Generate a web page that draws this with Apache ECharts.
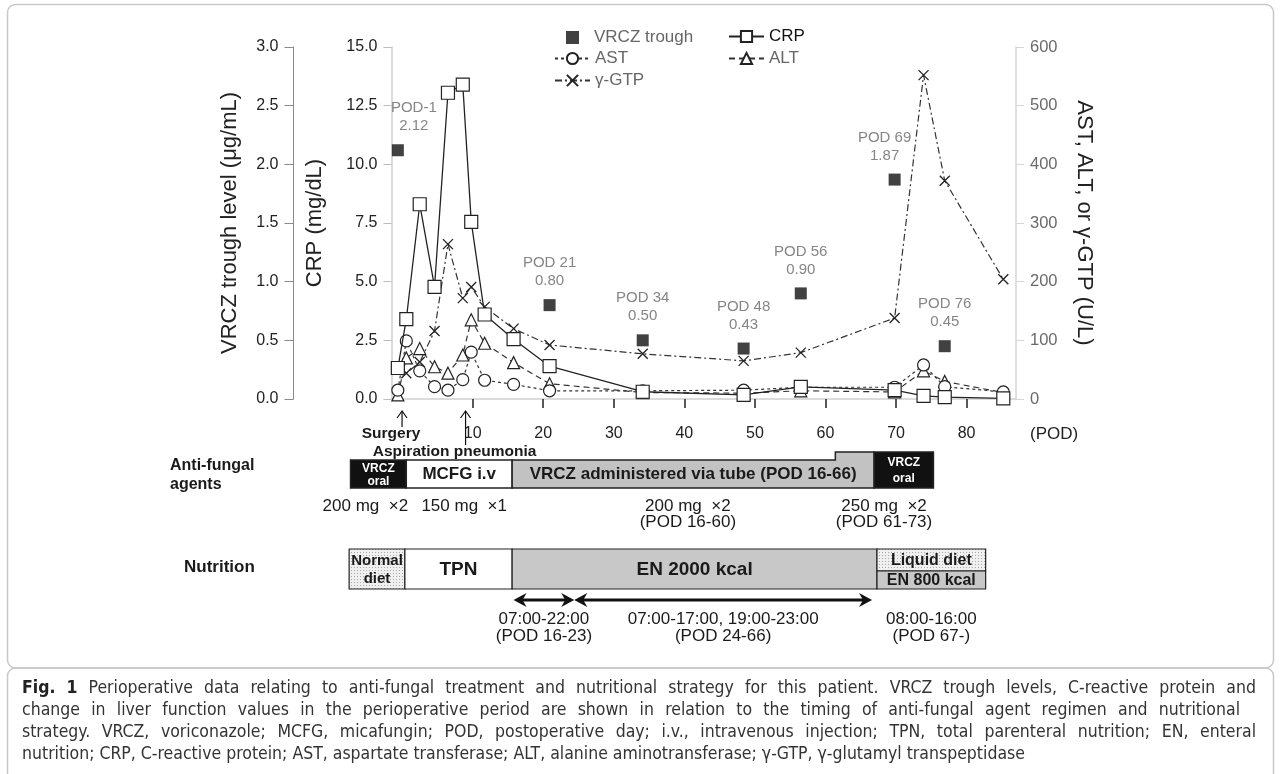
<!DOCTYPE html>
<html>
<head>
<meta charset="utf-8">
<script src="https://cdn.jsdelivr.net/npm/echarts@6/dist/echarts.min.js"></script>
<style>
  html, body { margin: 0; padding: 0; background: #fff; }
  #chart { width: 1281px; height: 774px; }
</style>
</head>
<body>
<div id="chart"></div>
<script>
// lab sampling days (POD) and values
const labDays = [-0.6, 0.6, 2.5, 4.6, 6.5, 8.6, 9.8, 11.7, 15.8, 20.9, 34.1, 48.4, 56.5, 69.8, 73.9, 76.9, 85.2];
const crp  = [1.32, 3.4, 8.3, 4.78, 13.05, 13.4, 7.55, 3.6, 2.55, 1.4, 0.31, 0.18, 0.52, 0.38, 0.13, 0.08, 0.03];
const ast  = [15, 99, 48, 21, 15, 33, 80, 32, 25, 14, 14, 15, 20, 20, 58, 21, 12];
const alt  = [7, 70, 86, 55, 44, 75, 135, 95, 62, 26, 11, 10, 14, 12, 48, 30, 11];
const ggtp = [54, 44, 63, 116, 264, 172, 191, 157, 120, 92, 77, 65, 79, 138, 552, 372, 204];

// VRCZ trough samples
const vrczDays = [-0.6, 20.9, 34.1, 48.4, 56.5, 69.8, 76.9];
const vrczTrough = [2.12, 0.80, 0.50, 0.43, 0.90, 1.87, 0.45];
const vrczPod = ['POD-1', 'POD 21', 'POD 34', 'POD 48', 'POD 56', 'POD 69', 'POD 76'];

const podTicks = [10, 20, 30, 40, 50, 60, 70, 80];

// events under the axis
const eventDays = [0, 9];
const eventNames = ['Surgery', 'Aspiration pneumonia'];

// anti-fungal regimen (POD)
const agentStart = [-7.3, 0.6, 15.6, 66.9];
const agentEnd = [0.6, 15.6, 66.9, 75.3];
const agentNames = ['VRCZ\noral', 'MCFG i.v', 'VRCZ administered via tube (POD 16-66)', 'VRCZ\noral'];
const doseChangeDay = 61.4;
const doseDays = [-5.2, 8.8, 40.5, 68.3];
const doseText = ['200 mg  \u00d72', '150 mg  \u00d71', '200 mg  \u00d72\n(POD 16-60)', '250 mg  \u00d72\n(POD 61-73)'];

// nutrition (POD)
const nutStart = [-7.5, 0.4, 15.6, 67.3];
const nutEnd = [0.4, 15.6, 67.3, 82.7];
const nutNames = ['Normal\ndiet', 'TPN', 'EN 2000 kcal', 'Liquid diet\nEN 800 kcal'];
const enArrowStart = [15.8, 24.4];
const enArrowEnd = [24.4, 66.6];
const scheduleDays = [20.1, 45.5, 75];
const scheduleText = ['07:00-22:00\n(POD 16-23)', '07:00-17:00, 19:00-23:00\n(POD 24-66)', '08:00-16:00\n(POD 67-)'];

const captionLines = [
  'Perioperative data relating to anti-fungal treatment and nutritional strategy for this patient. VRCZ trough levels, C-reactive protein and',
  'change in liver function values in the perioperative period are shown in relation to the timing of anti-fungal agent regimen and nutritional',
  'strategy. VRCZ, voriconazole; MCFG, micafungin; POD, postoperative day; i.v., intravenous injection; TPN, total parenteral nutrition; EN, enteral',
  'nutrition; CRP, C-reactive protein; AST, aspartate transferase; ALT, alanine aminotransferase; \u03b3-GTP, \u03b3-glutamyl transpeptidase'
];

const FONT = 'Liberation Sans, Arial, sans-serif';
const CAPTION_FONT = 'DejaVu Sans Condensed, Liberation Sans Narrow, sans-serif';
const CAP_SIZE = 17.5;
const CAP_LEFT = 22;
const CAP_RIGHT = [1256, 1240, 1256];
const INK = '#1a1a1a';

// dotted fill for diet boxes
const dots = document.createElement('canvas');
dots.width = 3; dots.height = 3;
const dc = dots.getContext('2d');
dc.fillStyle = '#f0f0f0'; dc.fillRect(0, 0, 3, 3);
dc.fillStyle = '#a8a8a8'; dc.fillRect(0, 0, 1, 1);
const dotFill = { image: dots, repeat: 'repeat' };

const agentFill = ['#111', '#fff', '#c2c2c2', '#111'];

function xOf(api, d) { return api.coord([d, 0])[0]; }

function txt(x, y, text, size, opt) {
  return {
    type: 'text', x: x, y: y,
    style: Object.assign({
      text: text, fontSize: size, fontFamily: FONT, fontWeight: 'bold', fill: INK,
      align: 'center', verticalAlign: 'middle'
    }, opt || {})
  };
}

function renderAgent(params, api) {
  const i = params.dataIndex;
  const x1 = xOf(api, api.value(0)), x2 = xOf(api, api.value(1));
  const top = 460, bottom = 488, high = 452;
  const kids = [];
  let t = top;
  if (i === 2) {
    const xs = xOf(api, doseChangeDay);
    kids.push({ type: 'polygon', shape: { points: [[x1, top], [xs, top], [xs, high], [x2, high], [x2, bottom], [x1, bottom]] },
      style: { fill: agentFill[i], stroke: '#222', lineWidth: 1.5 } });
  } else {
    if (i === 3) t = high;
    kids.push({ type: 'rect', shape: { x: x1, y: t, width: x2 - x1, height: bottom - t },
      style: { fill: agentFill[i], stroke: '#222', lineWidth: 1.5 } });
  }
  const dark = agentFill[i] === '#111';
  if (dark) {
    kids.push(txt((x1 + x2) / 2, (t + bottom) / 2 + 1, agentNames[i], 12, { fill: '#fff', lineHeight: (bottom - t) * 0.45 }));
  } else {
    kids.push(txt((x1 + x2) / 2, (top + bottom) / 2, agentNames[i], 17));
  }
  return { type: 'group', children: kids };
}

function renderNutrition(params, api) {
  const i = params.dataIndex;
  const x1 = xOf(api, api.value(0)), x2 = xOf(api, api.value(1));
  const top = 549, bottom = 589, mid = 571;
  const cx = (x1 + x2) / 2;
  const kids = [];
  if (i === 3) {
    const parts = nutNames[i].split('\n');
    kids.push({ type: 'rect', shape: { x: x1, y: top, width: x2 - x1, height: mid - top }, style: { fill: dotFill, stroke: '#222', lineWidth: 1.2 } });
    kids.push({ type: 'rect', shape: { x: x1, y: mid, width: x2 - x1, height: bottom - mid }, style: { fill: '#c8c8c8', stroke: '#222', lineWidth: 1.2 } });
    kids.push(txt(cx, (top + mid) / 2 + 1, parts[0], 16));
    kids.push(txt(cx, (mid + bottom) / 2 + 1, parts[1], 16));
  } else {
    const fill = i === 0 ? dotFill : (i === 1 ? '#fff' : '#c8c8c8');
    kids.push({ type: 'rect', shape: { x: x1, y: top, width: x2 - x1, height: bottom - top }, style: { fill: fill, stroke: '#222', lineWidth: 1.2 } });
    if (i === 0) kids.push(txt(cx, (top + bottom) / 2 + 1, nutNames[i], 15, { lineHeight: 18 }));
    else kids.push(txt(cx, (top + bottom) / 2 + 1, nutNames[i], 19));
  }
  return { type: 'group', children: kids };
}

function head(x, y, dir) {
  return { type: 'polygon', shape: { points: [[x, y], [x - dir * 13, y - 7], [x - dir * 9, y], [x - dir * 13, y + 7]] }, style: { fill: '#111' } };
}

function renderEnArrow(params, api) {
  const x1 = xOf(api, api.value(0)), x2 = xOf(api, api.value(1));
  const y = 600;
  return { type: 'group', children: [
    { type: 'line', shape: { x1: x1 + 4, y1: y, x2: x2 - 4, y2: y }, style: { stroke: '#111', lineWidth: 3 } },
    head(x1, y, -1), head(x2, y, 1)
  ] };
}

function renderSchedule(params, api) {
  const x = xOf(api, api.value(0));
  return txt(x, 611, scheduleText[params.dataIndex], 17, { fontWeight: 'normal', verticalAlign: 'top', lineHeight: 17 });
}

function renderDose(params, api) {
  const x = xOf(api, api.value(0));
  return txt(x, 498, doseText[params.dataIndex], 17, { fontWeight: 'normal', verticalAlign: 'top', lineHeight: 16 });
}

function renderEvent(params, api) {
  const i = params.dataIndex;
  const x = xOf(api, api.value(0));
  const bottom = 427 + 18 * i;
  return { type: 'group', children: [
    { type: 'line', shape: { x1: x, y1: 411, x2: x, y2: bottom }, style: { stroke: '#111', lineWidth: 1.2 } },
    { type: 'polyline', shape: { points: [[x - 5, 418], [x, 411], [x + 5, 418]] }, style: { stroke: '#111', lineWidth: 1.2, fill: null } },
    txt(x - 11, 434 + 18 * i, eventNames[i], 15.5)
  ] };
}

// justified caption: one text element per word
const measureCtx = document.createElement('canvas').getContext('2d');
function wordWidth(w, bold) {
  measureCtx.font = (bold ? 'bold ' : '') + CAP_SIZE + 'px ' + CAPTION_FONT;
  return measureCtx.measureText(w).width;
}
const captionGraphics = [];
captionLines.forEach((line, li) => {
  const words = (li === 0 ? ['Fig.', '1'] : []).concat(line.split(' '));
  const bold = words.map((w, k) => li === 0 && k < 2);
  const widths = words.map((w, k) => wordWidth(w, bold[k]));
  const total = widths.reduce((a, b) => a + b, 0);
  const space = wordWidth(' ', false);
  let gap = space;
  if (li < CAP_RIGHT.length) gap = Math.max(space, (CAP_RIGHT[li] - CAP_LEFT - total) / (words.length - 1));
  let x = CAP_LEFT;
  words.forEach((w, k) => {
    captionGraphics.push({
      type: 'text', x: x, y: 688 + li * 22.3,
      style: { text: w, fontSize: CAP_SIZE, fontFamily: CAPTION_FONT, fontWeight: bold[k] ? 'bold' : 'normal',
        fill: bold[k] ? '#222' : '#333', verticalAlign: 'middle' }
    });
    x += widths[k] + gap;
  });
});

const podLabelShift = { 0: 16, 5: -10 };

const lineBase = { type: 'line', xAxisIndex: 0, yAxisIndex: 2, symbolKeepAspect: true, z: 3 };

const legendBase = {
  selectedMode: false, itemGap: 0, padding: 0,
  textStyle: { fontSize: 17, color: '#666', fontFamily: FONT }
};

const chart = echarts.init(document.getElementById('chart'));
chart.setOption({
  animation: false,
  backgroundColor: '#fff',
  textStyle: { fontFamily: FONT },
  grid: [
    { left: 391.5, right: 265, top: 47, bottom: 375, outerBoundsMode: 'none' },
    { left: 345.6, right: 265, top: 420, bottom: 100, outerBoundsMode: 'none' }
  ],
  legend: [
    Object.assign({}, legendBase, { data: ['VRCZ trough'], left: 566, top: 29, itemWidth: 13, itemHeight: 13, textStyle: Object.assign({}, legendBase.textStyle, { padding: [0, 0, 0, 10] }) }),
    Object.assign({}, legendBase, { data: ['CRP'], left: 728, top: 28, itemWidth: 35, itemHeight: 14, textStyle: Object.assign({}, legendBase.textStyle, { color: '#111' }) }),
    Object.assign({}, legendBase, { data: ['AST'], left: 554, top: 50, itemWidth: 35, itemHeight: 14 }),
    Object.assign({}, legendBase, { data: ['ALT'], left: 728, top: 50, itemWidth: 35, itemHeight: 14 }),
    Object.assign({}, legendBase, { data: ['\u03b3-GTP'], left: 554, top: 72, itemWidth: 35, itemHeight: 14 })
  ],
  xAxis: [
    {
      type: 'value', gridIndex: 0, min: -1.5, max: 87,
      splitLine: { show: false },
      axisLine: { lineStyle: { color: '#cfcfcf', width: 1.5 } },
      axisTick: { customValues: podTicks, length: 9, lineStyle: { color: '#222', width: 1.5 } },
      axisLabel: { customValues: podTicks, fontSize: 16, color: '#222', margin: 27 },
      name: '(POD)', nameLocation: 'end', nameGap: 14,
      nameTextStyle: { fontSize: 17, color: '#222', verticalAlign: 'top', padding: [27, 0, 0, 0] }
    },
    { type: 'value', gridIndex: 1, min: -8, max: 87, show: false }
  ],
  yAxis: [
    {
      type: 'value', gridIndex: 0, position: 'left', offset: 98, min: 0, max: 3, interval: 0.5,
      name: 'VRCZ trough level (\u03bcg/mL)', nameLocation: 'middle', nameGap: 53, nameRotate: 90, nameMoveOverlap: false,
      nameTextStyle: { fontSize: 22, color: '#222' },
      axisLine: { show: true, onZero: false, lineStyle: { color: '#8a8a8a' } },
      axisTick: { show: true, length: 9, lineStyle: { color: '#8a8a8a' } },
      axisLabel: { formatter: v => v.toFixed(1), fontSize: 16, color: '#222', margin: 15 },
      splitLine: { show: false }
    },
    {
      type: 'value', gridIndex: 0, position: 'left', offset: 0, min: 0, max: 15, interval: 2.5,
      name: 'CRP (mg/dL)', nameLocation: 'middle', nameGap: 66, nameRotate: 90, nameMoveOverlap: false,
      nameTextStyle: { fontSize: 22, color: '#222' },
      axisLine: { show: true, onZero: false, lineStyle: { color: '#cfcfcf', width: 1.5 } },
      axisTick: { show: true, length: 8, lineStyle: { color: '#bdbdbd' } },
      axisLabel: { formatter: v => v.toFixed(1), fontSize: 16, color: '#222', margin: 14 },
      splitLine: { show: false }
    },
    {
      type: 'value', gridIndex: 0, position: 'right', min: 0, max: 600, interval: 100,
      name: 'AST, ALT, or \u03b3-GTP (U/L)', nameLocation: 'middle', nameGap: 57, nameRotate: -90, nameMoveOverlap: false,
      nameTextStyle: { fontSize: 22, color: '#222' },
      axisLine: { show: true, onZero: false, lineStyle: { color: '#d6d6d6', width: 1.5 } },
      axisTick: { show: true, length: 8, lineStyle: { color: '#d6d6d6' } },
      axisLabel: { fontSize: 16.5, color: '#6a6a6a', margin: 14 },
      splitLine: { show: false }
    },
    { type: 'value', gridIndex: 1, min: 0, max: 1, show: false }
  ],
  series: [
    Object.assign({}, lineBase, {
      name: '\u03b3-GTP', data: labDays.map((d, i) => [d, ggtp[i]]),
      symbol: 'path://M0,0L10,10M10,0L0,10', symbolSize: 10,
      lineStyle: { color: '#333', width: 1.2, type: [7, 3, 2, 3] },
      itemStyle: { color: '#fff', borderColor: '#222', borderWidth: 1.3 }
    }),
    Object.assign({}, lineBase, {
      name: 'ALT', data: labDays.map((d, i) => [d, alt[i]]),
      symbol: 'triangle', symbolSize: 12,
      lineStyle: { color: '#333', width: 1.2, type: [6, 4] },
      itemStyle: { color: '#fff', borderColor: '#222', borderWidth: 1.2 }
    }),
    Object.assign({}, lineBase, {
      name: 'AST', data: labDays.map((d, i) => [d, ast[i]]),
      symbol: 'circle', symbolSize: 12,
      lineStyle: { color: '#333', width: 1.2, type: [3, 3] },
      itemStyle: { color: '#fff', borderColor: '#222', borderWidth: 1.2 }
    }),
    Object.assign({}, lineBase, {
      name: 'CRP', yAxisIndex: 1, data: labDays.map((d, i) => [d, crp[i]]),
      symbol: 'rect', symbolSize: 13, z: 4,
      lineStyle: { color: '#222', width: 1.3 },
      itemStyle: { color: '#fff', borderColor: '#222', borderWidth: 1.2 }
    }),
    {
      name: 'VRCZ trough', type: 'scatter', xAxisIndex: 0, yAxisIndex: 0, z: 5,
      symbol: 'rect', symbolSize: 12,
      itemStyle: { color: '#111' },
      data: vrczDays.map((d, i) => ({
        value: [d, vrczTrough[i]],
        label: { offset: [podLabelShift[i] || 0, 0] }
      })),
      label: {
        show: true, position: 'top', distance: 9, color: '#666', fontSize: 15, lineHeight: 18, align: 'center',
        formatter: p => vrczPod[p.dataIndex] + '\n' + vrczTrough[p.dataIndex].toFixed(2)
      }
    },
    { type: 'custom', xAxisIndex: 1, yAxisIndex: 3, silent: true, renderItem: renderEvent, data: eventDays.map(d => [d]) },
    { type: 'custom', xAxisIndex: 1, yAxisIndex: 3, silent: true, renderItem: renderAgent, data: agentStart.map((s, i) => [s, agentEnd[i]]) },
    { type: 'custom', xAxisIndex: 1, yAxisIndex: 3, silent: true, renderItem: renderDose, data: doseDays.map(d => [d]) },
    { type: 'custom', xAxisIndex: 1, yAxisIndex: 3, silent: true, renderItem: renderNutrition, data: nutStart.map((s, i) => [s, nutEnd[i]]) },
    { type: 'custom', xAxisIndex: 1, yAxisIndex: 3, silent: true, renderItem: renderEnArrow, data: enArrowStart.map((s, i) => [s, enArrowEnd[i]]) },
    { type: 'custom', xAxisIndex: 1, yAxisIndex: 3, silent: true, renderItem: renderSchedule, data: scheduleDays.map(d => [d]) }
  ],
  graphic: [
    { type: 'rect', shape: { x: 7.5, y: 4.5, width: 1266, height: 663.5, r: 8 }, style: { fill: 'none', stroke: '#c8c8c8', lineWidth: 1.5 } },
    { type: 'rect', shape: { x: 7.5, y: 668, width: 1266, height: 140, r: 8 }, style: { fill: 'none', stroke: '#c8c8c8', lineWidth: 1.5 } },
    { type: 'text', left: 170, top: 456, style: { text: 'Anti-fungal\nagents', fontSize: 16, fontWeight: 'bold', fontFamily: FONT, fill: INK, lineHeight: 19 } },
    { type: 'text', left: 184, top: 559, style: { text: 'Nutrition', fontSize: 17, fontWeight: 'bold', fontFamily: FONT, fill: INK } }
  ].concat(captionGraphics)
});
</script>
</body>
</html>
